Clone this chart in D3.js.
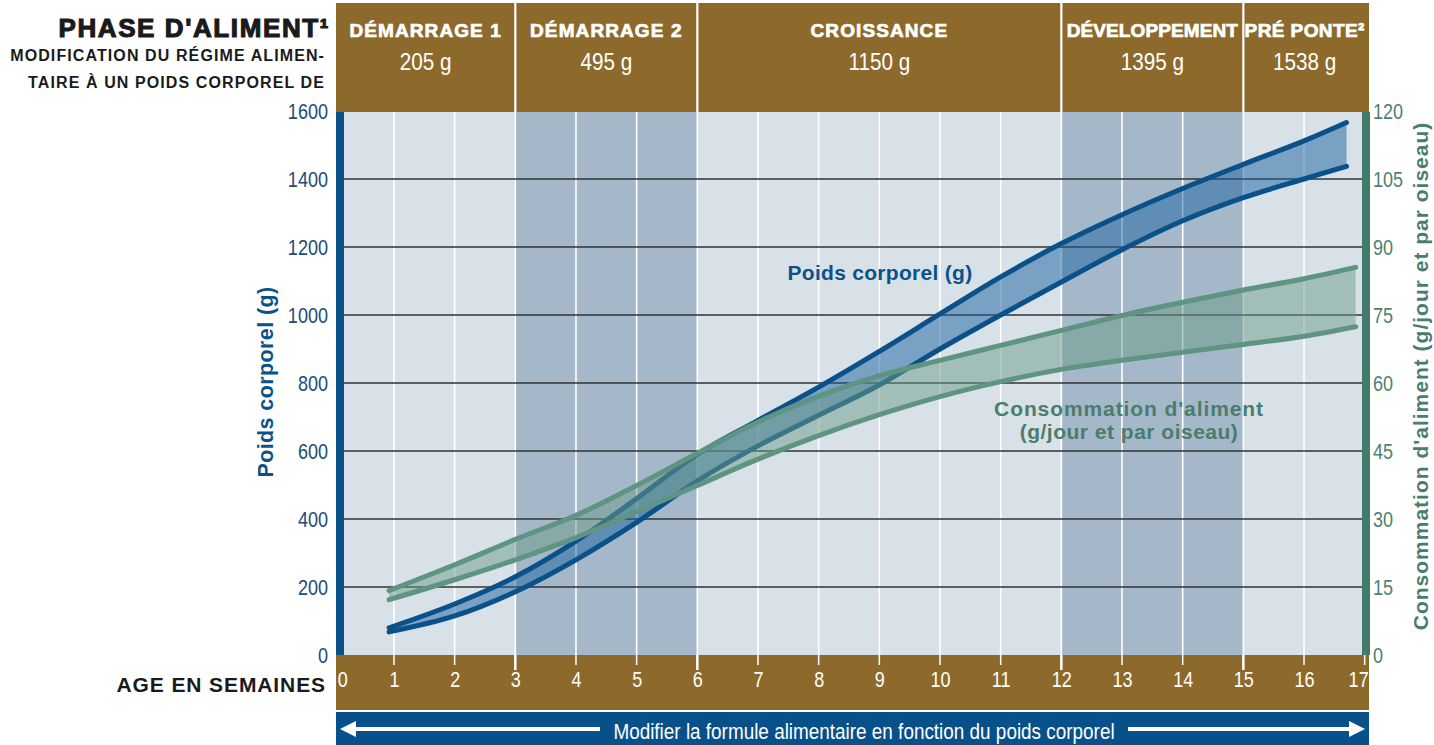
<!DOCTYPE html>
<html><head><meta charset="utf-8">
<script src="https://cdn.jsdelivr.net/npm/d3@7"></script>
<style>
html,body{margin:0;padding:0;background:#fff;}
svg{display:block;}
.narrow{font-family:"Liberation Sans Narrow","Arial Narrow","Liberation Sans",sans-serif;}
.bold{font-family:"Liberation Sans",Arial,sans-serif;font-weight:bold;}
</style></head>
<body>
<svg id="c" width="1434" height="745"></svg>
<script>
// ---- data ----
const phaseNames = ["DÉMARRAGE 1","DÉMARRAGE 2","CROISSANCE","DÉVELOPPEMENT","PRÉ PONTE²"];
const phaseWeights = ["205 g","495 g","1150 g","1395 g","1538 g"];
const phaseStart = [0,3,6,12,15];
const phaseEnd = [3,6,12,15,17];
const shadedStart = [3,12];
const shadedEnd = [6,15];
const weekTicks = [0,1,2,3,4,5,6,7,8,9,10,11,12,13,14,15,16,17];
const bwTicks = [0,200,400,600,800,1000,1200,1400,1600];
const feedTicks = [0,15,30,45,60,75,90,105,120];

const bwWeeks = [0.92,2,3,4,5,6,7,8,9,10,11,12,13,14,15,16,16.7];
const bwUpper = [80,150,230,335,460,590,690,788,893,1003,1112,1210,1295,1372,1443,1512,1566];
const bwLower = [68,115,186,280,390,512,615,705,794,900,1000,1097,1192,1277,1345,1400,1437];

const feedWeeks = [0.92,2,3,4,5,6,7,8,9,10,11,12,13,14,15,16,16.85];
const feedUpper = [14.2,19.9,25.5,30.8,37.4,44.5,51.4,57.1,61.6,65.0,68.3,71.6,74.9,77.8,80.5,83.0,85.5];
const feedLower = [12.2,16.6,21.0,25.9,31.6,37.4,43.2,48.4,53.0,57.0,60.3,63.0,65.0,66.8,68.5,70.3,72.4];

// ---- layout ----
const svg = d3.select("#c");
const L = 336, R = 1370, T = 112, B = 655;
const plotL = 344, plotR = 1362;
const x = d3.scaleLinear().domain([0,17]).range([333.3,1364.7]);
const yL = d3.scaleLinear().domain([0,1600]).range([B,111]);
const yR = d3.scaleLinear().domain([0,120]).range([B,111]);

const brown = "#8d6a2b", blue = "#0a5089", green = "#5f9482", greenDark = "#41796a";

function narrowText(px, py, str, size, sx, fill, anchor){
  svg.append("g").attr("transform",`translate(${px},${py})`)
    .append("text").attr("class","narrow").attr("transform",`scale(${sx},1)`)
    .attr("text-anchor",anchor||"middle").attr("font-size",size).attr("fill",fill).text(str);
}

// header band
svg.append("rect").attr("x",L).attr("y",3).attr("width",R-L-1).attr("height",T-3).attr("fill",brown);
// plot bg
svg.append("rect").attr("x",plotL).attr("y",T).attr("width",plotR-plotL).attr("height",B-T).attr("fill","#d8e0e8");
shadedStart.forEach((s,i)=>{
  svg.append("rect").attr("x",x(s)).attr("y",T).attr("width",x(shadedEnd[i])-x(s)).attr("height",B-T).attr("fill","#a5b8c9");
});
// vertical white grid
svg.append("g").selectAll("line").data(weekTicks.filter(w=>w>0&&w<17)).join("line")
  .attr("x1",d=>x(d)).attr("x2",d=>x(d)).attr("y1",T).attr("y2",B)
  .attr("stroke","#fff").attr("stroke-width",1.6);
// horizontal grid
svg.append("g").selectAll("line").data(bwTicks.filter(v=>v>0&&v<1600)).join("line")
  .attr("x1",plotL).attr("x2",plotR).attr("y1",d=>yL(d)).attr("y2",d=>yL(d))
  .attr("stroke","#333").attr("stroke-width",1.4);

// header dividers
phaseStart.slice(1).forEach(s=>{
  svg.append("line").attr("x1",x(s)).attr("x2",x(s)).attr("y1",3).attr("y2",T)
    .attr("stroke","#fff").attr("stroke-width",2.2);
});
// header labels
const lsp = [1.1,1.1,1.1,0.1,0.4];
phaseNames.forEach((n,i)=>{
  const a = i===0? L : x(phaseStart[i]);
  const b = i===4? R : x(phaseEnd[i]);
  const cx = (a+b)/2 - (i===4?2:0);
  svg.append("text").attr("class","bold").attr("x",cx).attr("y",37).attr("text-anchor","middle")
    .attr("fill","#fff").attr("stroke","#fff").attr("stroke-width",0.7)
    .attr("font-size",19).attr("letter-spacing",lsp[i]).text(n);
  narrowText(cx, 70, phaseWeights[i], 23, 0.9, "#fff");
});

// left header texts
svg.append("text").attr("class","bold").attr("x",330).attr("y",37).attr("text-anchor","end")
  .attr("font-size",26).attr("letter-spacing",1.6).attr("stroke","#1a1a1a").attr("stroke-width",1.1)
  .attr("fill","#1a1a1a").text("PHASE D'ALIMENT¹");
svg.append("text").attr("class","bold").attr("x",325).attr("y",61).attr("text-anchor","end")
  .attr("font-size",16).attr("letter-spacing",1.1).attr("fill","#1a1a1a").text("MODIFICATION DU RÉGIME ALIMEN-");
svg.append("text").attr("class","bold").attr("x",325).attr("y",88).attr("text-anchor","end")
  .attr("font-size",16).attr("letter-spacing",1.1).attr("fill","#1a1a1a").text("TAIRE À UN POIDS CORPOREL DE");

// curves
const cv = d3.curveCatmullRom.alpha(0.5);
const line = (xs, ys, ysc) => d3.line().x((d,i)=>x(xs[i])).y(d=>ysc(d)).curve(cv)(ys);
const area = (xs, up, lo, ysc) => d3.area().x((d,i)=>x(xs[i])).y0((d,i)=>ysc(lo[i])).y1(d=>ysc(d)).curve(cv)(up);

svg.append("path").attr("d",area(bwWeeks,bwUpper,bwLower,yL)).attr("fill","#1a62a0").attr("fill-opacity",0.5);
[bwUpper,bwLower].forEach(s=>{
  svg.append("path").attr("d",line(bwWeeks,s,yL)).attr("fill","none").attr("stroke",blue)
    .attr("stroke-width",5).attr("stroke-linecap","round");
});
svg.append("path").attr("d",area(feedWeeks,feedUpper,feedLower,yR)).attr("fill","#6a9c88").attr("fill-opacity",0.5);
[feedUpper,feedLower].forEach(s=>{
  svg.append("path").attr("d",line(feedWeeks,s,yR)).attr("fill","none").attr("stroke",green)
    .attr("stroke-width",5).attr("stroke-linecap","round");
});

// series labels
svg.append("text").attr("class","bold").attr("x",880).attr("y",280).attr("text-anchor","middle")
  .attr("font-size",21).attr("letter-spacing",0.3).attr("fill","#0c5289").text("Poids corporel (g)");
svg.append("text").attr("class","bold").attr("x",1129).attr("y",416).attr("text-anchor","middle")
  .attr("font-size",21).attr("letter-spacing",0.9).attr("fill","#4a7d6b").text("Consommation d'aliment");
svg.append("text").attr("class","bold").attr("x",1129).attr("y",439).attr("text-anchor","middle")
  .attr("font-size",21).attr("letter-spacing",0.5).attr("fill","#4a7d6b").text("(g/jour et par oiseau)");

// axis bars
svg.append("rect").attr("x",L).attr("y",T).attr("width",8).attr("height",B-T).attr("fill",blue);
svg.append("rect").attr("x",plotR).attr("y",T).attr("width",8).attr("height",B-T).attr("fill",greenDark);

// left axis
const gl = svg.append("g").attr("transform",`translate(328,0)`)
  .call(d3.axisLeft(yL).tickValues(bwTicks).tickSize(0).tickPadding(0).tickFormat(d3.format("d")));
gl.select(".domain").remove();
gl.selectAll("text").attr("class","narrow").attr("font-size",22).attr("fill","#1b4c7c")
  .attr("dy","0.36em").attr("transform","scale(0.82,1)");
// right axis
const gr = svg.append("g").attr("transform",`translate(1373,0)`)
  .call(d3.axisRight(yR).tickValues(feedTicks).tickSize(0).tickPadding(0).tickFormat(d3.format("d")));
gr.select(".domain").remove();
gr.selectAll("text").attr("class","narrow").attr("font-size",22).attr("fill","#4d8270")
  .attr("dy","0.36em").attr("transform","scale(0.82,1)");

// axis titles
svg.append("text").attr("class","bold").attr("transform","translate(273,382) rotate(-90)")
  .attr("text-anchor","middle").attr("font-size",21.5).attr("letter-spacing",0.4).attr("fill","#0c5289").text("Poids corporel (g)");
svg.append("text").attr("class","bold").attr("transform","translate(1428,376) rotate(-90)")
  .attr("text-anchor","middle").attr("font-size",21).attr("letter-spacing",1.0).attr("fill","#4a7d6b").text("Consommation d'aliment (g/jour et par oiseau)");

// bottom band
svg.append("rect").attr("x",L).attr("y",B).attr("width",R-L-1).attr("height",55).attr("fill",brown);
const major = [3,6,12,15];
svg.append("g").selectAll("line").data(weekTicks.filter(w=>w>0)).join("line")
  .attr("x1",d=>x(d)).attr("x2",d=>x(d)).attr("y1",B).attr("y2",d=>major.includes(d)?670:665)
  .attr("stroke","#fff").attr("stroke-width",d=>major.includes(d)?2.5:1.5);
const gb = svg.append("g").attr("transform",`translate(0,676)`)
  .call(d3.axisBottom(x).tickValues(weekTicks).tickSize(0).tickPadding(0).tickFormat(d3.format("d")));
gb.select(".domain").remove();
gb.selectAll("text").attr("class","narrow").attr("font-size",22).attr("fill","#fff").attr("dy","0.5em")
  .attr("transform","scale(0.82,1)")
  .attr("dx",d=>d===0?11:(d===17?-8:0));
svg.append("text").attr("class","bold").attr("x",326).attr("y",692).attr("text-anchor","end")
  .attr("font-size",21).attr("letter-spacing",0.9).attr("fill","#1a1a1a").text("AGE EN SEMAINES");

// blue bottom band
svg.append("rect").attr("x",L).attr("y",712).attr("width",R-L-1).attr("height",33).attr("fill","#08508a");
narrowText(864, 739, "Modifier la formule alimentaire en fonction du poids corporel", 22, 0.86, "#fff");
// arrows
const arrowY = 729;
svg.append("line").attr("x1",352).attr("x2",600).attr("y1",arrowY).attr("y2",arrowY).attr("stroke","#fff").attr("stroke-width",4);
svg.append("path").attr("d",`M340,${arrowY} L356,${arrowY-8} L356,${arrowY+8} Z`).attr("fill","#fff");
svg.append("line").attr("x1",1128).attr("x2",1352).attr("y1",arrowY).attr("y2",arrowY).attr("stroke","#fff").attr("stroke-width",4);
svg.append("path").attr("d",`M1365,${arrowY} L1349,${arrowY-8} L1349,${arrowY+8} Z`).attr("fill","#fff");
</script>
</body></html>
